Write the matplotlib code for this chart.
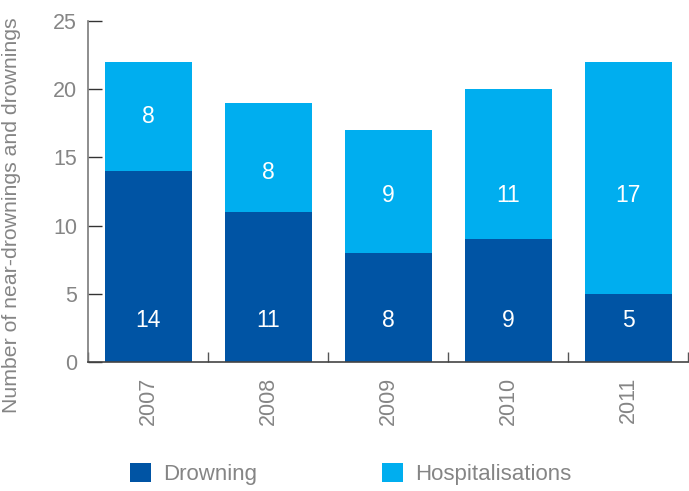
import matplotlib.pyplot as plt
import numpy as np

years = ["2007", "2008", "2009", "2010", "2011"]
drowning = [14, 11, 8, 9, 5]
hospitalisations = [8, 8, 9, 11, 17]

# where the white value labels sit on the y scale
drowning_label_y = [3, 3, 3, 3, 3]
hosp_label_y = [18, 13.9, 12.2, 12.2, 12.2]

dark_blue = "#0054a4"
light_blue = "#00aeef"
grey = "#858585"

plt.rcParams['font.family'] = ['Liberation Sans', 'DejaVu Sans']

fig = plt.figure(figsize=(6.89, 4.91), dpi=100)
ax = fig.add_axes([0.128, 0.263, 0.871, 0.694])

x = np.arange(len(years))
width = 0.725
b1 = ax.bar(x, drowning, width, color=dark_blue, label="Drowning")
b2 = ax.bar(x, hospitalisations, width, bottom=drowning, color=light_blue, label="Hospitalisations")

for i in range(len(years)):
    ax.text(x[i], drowning_label_y[i], str(drowning[i]), ha='center', va='center',
            color='white', fontsize=16.5)
    ax.text(x[i], hosp_label_y[i], str(hospitalisations[i]),
            ha='center', va='center', color='white', fontsize=16.5)

ax.set_xlim(-0.5, len(years) - 0.5)
ax.set_ylim(0, 25)
ax.set_yticks([0, 5, 10, 15, 20, 25])
ax.tick_params(axis='y', direction='in', length=10, width=1, colors='#333333',
               labelcolor=grey, labelsize=15.5, pad=8)

# category ticks between bars, labels under bar centres
ax.set_xticks(np.arange(len(years) + 1) - 0.5)
ax.set_xticklabels([])
ax.set_xticks(x, minor=True)
ax.set_xticklabels(years, minor=True, rotation=90, color=grey, fontsize=15.5)
ax.tick_params(axis='x', which='major', direction='in', length=7, width=1, colors='#555555')
ax.tick_params(axis='x', which='minor', length=0, pad=11)

for side in ['top', 'right']:
    ax.spines[side].set_visible(False)
ax.spines['left'].set_color('#7a7a7a')
ax.spines['left'].set_linewidth(1.2)
ax.spines['bottom'].set_color('#444444')
ax.spines['bottom'].set_linewidth(1.2)

ax.set_ylabel("Number of near-drownings and drownings", color=grey, fontsize=15.3)
ax.yaxis.set_label_coords(-0.112, 0.43)

fig.legend(handles=[b1, b2], loc='center left', bbox_to_anchor=(0.1887, 0.035), ncol=2,
           frameon=False, fontsize=16, labelcolor=grey, handlelength=0.95,
           handleheight=0.95, columnspacing=5.6, handletextpad=0.55,
           borderpad=0, borderaxespad=0)

fig.savefig("out.png", dpi=100)
